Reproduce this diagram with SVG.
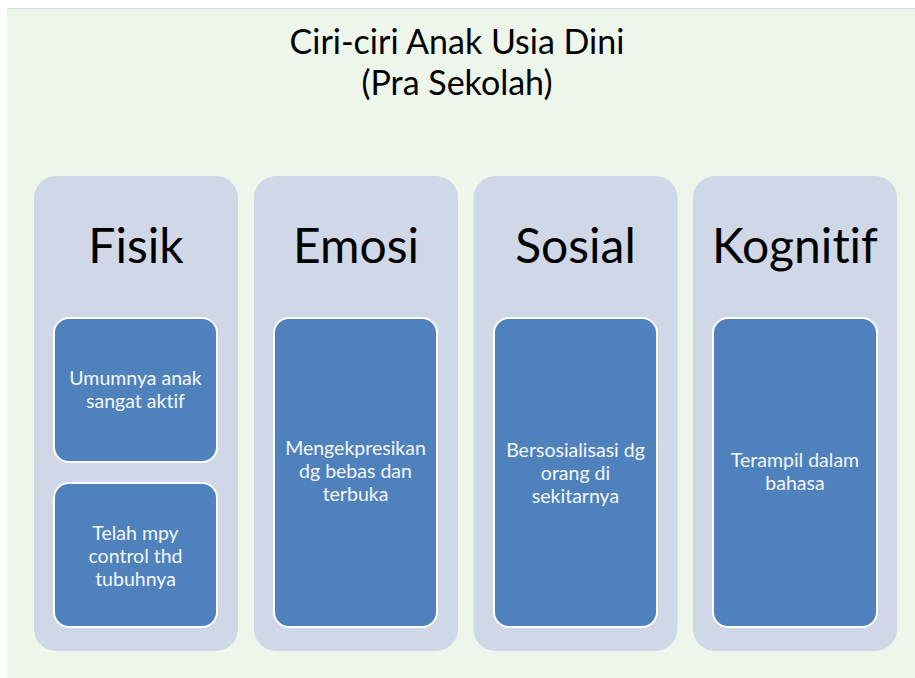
<svg xmlns="http://www.w3.org/2000/svg" width="915" height="678" viewBox="0 0 915 678">
<style>
text{font-variant-ligatures:none;font-feature-settings:"liga" 0,"dlig" 0}
.bg{fill:#EEF5EB}
.col{fill:#D0D8E8}
.box{fill:#4F81BD;stroke:#FFFFFF;stroke-width:2}
.title{font-family:Lato,"Liberation Sans",sans-serif;font-size:34px;fill:#000;text-anchor:middle}
.head{font-family:Lato,"Liberation Sans",sans-serif;font-size:48px;fill:#000;text-anchor:middle}
.txt{font-family:Lato,"Liberation Sans",sans-serif;font-size:19.5px;fill:#F4F7FB;text-anchor:middle}
</style>
<rect x="0" y="0" width="915" height="678" fill="#FFFFFF"/>
<rect x="7" y="8" width="908" height="1" fill="#D8D8D8"/>
<rect class="bg" x="7" y="9" width="908" height="669"/>
<g id="title">
<text class="title" x="457" y="54">Ciri-ciri Anak Usia Dini</text>
<text class="title" x="457" y="95">(Pra Sekolah)</text>
</g>
<g id="fisik">
<rect class="col" x="34" y="176" width="204" height="475" rx="22"/>
<text class="head" x="136" y="263">Fisik</text>
</g>
<g id="fisik-1">
<rect class="box" x="54" y="318" width="163" height="144" rx="15"/>
<text class="txt" x="135.5" y="385">Umumnya anak</text>
<text class="txt" x="135.5" y="408">sangat aktif</text>
</g>
<g id="fisik-2">
<rect class="box" x="54" y="483" width="163" height="144" rx="15"/>
<text class="txt" x="135.5" y="540">Telah mpy</text>
<text class="txt" x="135.5" y="563">control thd</text>
<text class="txt" x="135.5" y="586">tubuhnya</text>
</g>
<g id="emosi">
<rect class="col" x="254" y="176" width="204" height="475" rx="22"/>
<text class="head" x="356" y="263">Emosi</text>
</g>
<g id="emosi-1">
<rect class="box" x="274" y="318" width="163" height="309" rx="15"/>
<text class="txt" x="355.5" y="455">Mengekpresikan</text>
<text class="txt" x="355.5" y="478">dg bebas dan</text>
<text class="txt" x="355.5" y="501">terbuka</text>
</g>
<g id="sosial">
<rect class="col" x="473.5" y="176" width="204" height="475" rx="22"/>
<text class="head" x="575.5" y="263">Sosial</text>
</g>
<g id="sosial-1">
<rect class="box" x="494" y="318" width="163" height="309" rx="15"/>
<text class="txt" x="575.5" y="457">Bersosialisasi dg</text>
<text class="txt" x="575.5" y="480">orang di</text>
<text class="txt" x="575.5" y="503">sekitarnya</text>
</g>
<g id="kognitif">
<rect class="col" x="693" y="176" width="204" height="475" rx="22"/>
<text class="head" x="795" y="263">Kognitif</text>
</g>
<g id="kognitif-1">
<rect class="box" x="713" y="318" width="164" height="309" rx="15"/>
<text class="txt" x="795" y="467">Terampil dalam</text>
<text class="txt" x="795" y="490">bahasa</text>
</g>
<g id="connectors"></g>
</svg>
